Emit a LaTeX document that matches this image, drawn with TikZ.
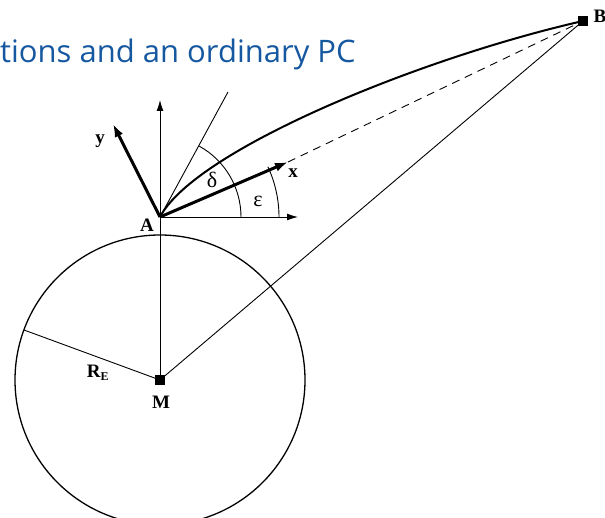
\documentclass[tikz,border=0pt]{standalone}
\usepackage{fontspec}
\setmainfont{Liberation Serif}
\newfontfamily\titlefont{Open Sans}
\usetikzlibrary{arrows.meta}
\definecolor{titleblue}{RGB}{22,88,160}
\begin{document}
\begin{tikzpicture}[x=1pt,y=-1pt,
  thin line/.style={line width=0.9pt},
  bold line/.style={line width=2pt},
  axisarrow/.style={thin line,-{Latex[length=11pt,width=7pt]}},
  boldarrow/.style={line width=3pt,-{Latex[length=13pt,width=9pt]}},
  lbl/.style={font=\bfseries\fontsize{19}{19}\selectfont,inner sep=0pt},
  greek/.style={font=\fontsize{22}{22}\selectfont,inner sep=0pt},
  pt/.style={fill=black,minimum size=10pt,inner sep=0pt,draw=none}]
\useasboundingbox (0,0) rectangle (605,518);
\node[anchor=base west,inner sep=0pt,text=titleblue,font=\titlefont\fontsize{31}{31}\selectfont] (title) at (0,63) {tions and an ordinary PC};
\coordinate (A) at (160,217);
\node[pt] (M) at (160,380) {};
\node[pt] (B) at (583,21) {};
\coordinate (up) at (160,100);
\coordinate (right) at (298,217);
\coordinate (ytip) at (113,124);
\coordinate (xtip) at (288,162);
\coordinate (tan) at (228,92);
\coordinate (RE) at (24,330);
% earth
\draw[line width=1.3pt] (160,380) circle (145);
\draw[thin line] (A) -- (M.center);
\draw[thin line] (M.center) -- (RE);
\draw[thin line] (M.center) -- (B.center);
% axes
\draw[axisarrow] (A) -- (up);
\draw[axisarrow] (A) -- (right);
\draw[thin line] (A) -- (tan);
\draw[thin line,dash pattern=on 8pt off 6pt] (xtip) -- (B.center);
\draw[boldarrow] (A) -- (xtip);
\draw[boldarrow] (A) -- (ytip);
% ray
\draw[bold line] (A) .. controls (195,150) and (420,58) .. (B.center);
% angles
\draw[thin line] (241,217) arc[start angle=0,end angle=-61,radius=81];
\draw[thin line] (279,217) arc[start angle=0,end angle=-25,radius=119];
% labels
\node[greek] (delta) at (212,180) {δ};
\node[greek] (eps) at (258,201) {ε};
\node[lbl] (xl) at (293,173) {x};
\node[lbl] (yl) at (100,141) {y};
\node[lbl] (Al) at (147,225) {A};
\node[lbl] (Ml) at (161,402) {M};
\node[lbl] (Bl) at (600,16) {B};
\node[lbl] (REl) at (98,373) {R\textsubscript{\fontsize{12}{12}\selectfont E}};
\end{tikzpicture}
\end{document}
